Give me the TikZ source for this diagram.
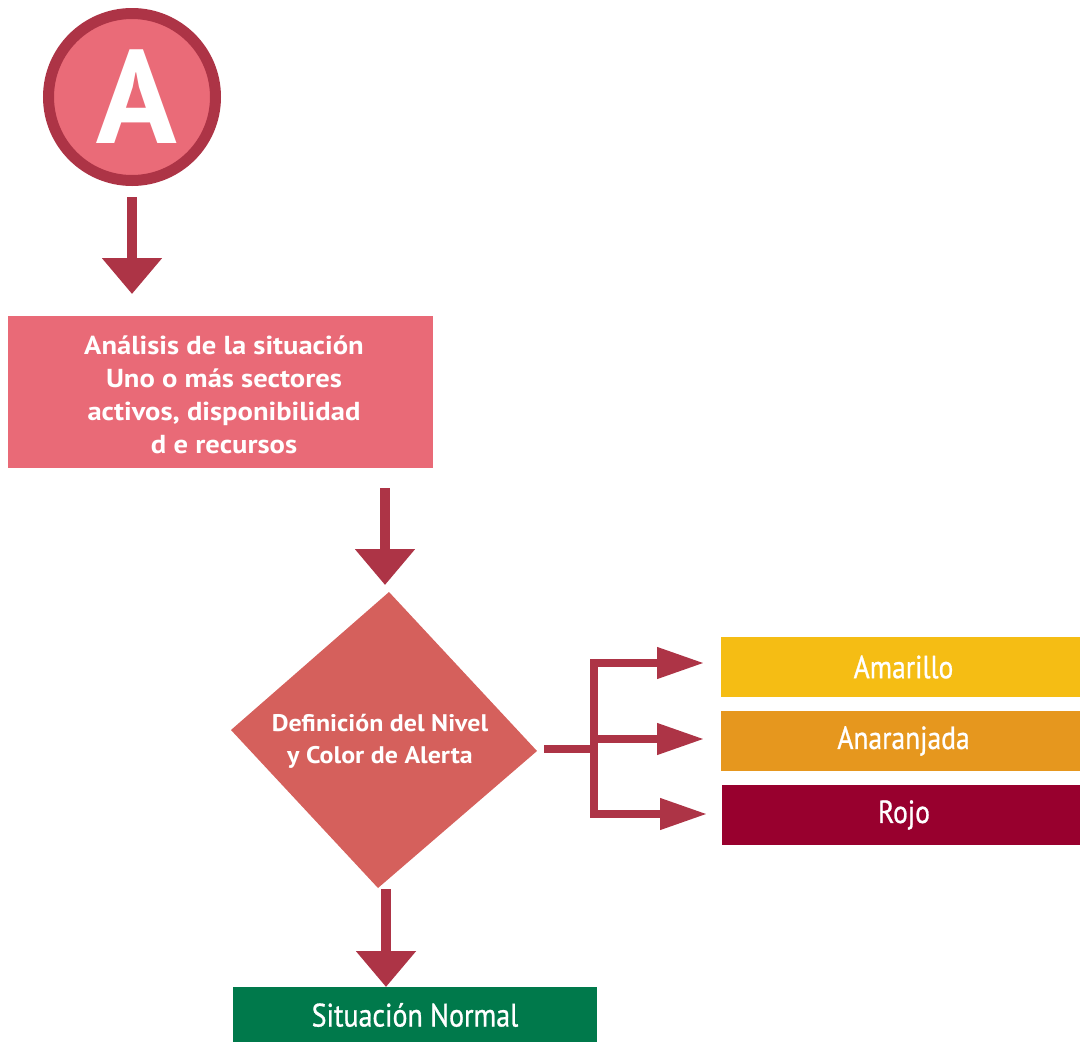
\documentclass[tikz,border=0pt]{standalone}
\usepackage{fontspec}
\setmainfont{PT Sans}
\newfontfamily\narrowf[FakeStretch=0.86,FakeBold=0.8]{PT Sans}
\newfontfamily\widebf[FakeStretch=1.1]{PT Sans Bold}
\newfontfamily\diambf[FakeStretch=1.08]{PT Sans Bold}
\usetikzlibrary{arrows.meta}
\definecolor{arrowc}{HTML}{AD3446}
\definecolor{circf}{HTML}{EA6B78}
\definecolor{pinkbox}{HTML}{E96A77}
\definecolor{diamf}{HTML}{D5605C}
\definecolor{greenb}{HTML}{00794B}
\definecolor{amar}{HTML}{F5BD14}
\definecolor{anar}{HTML}{E6971E}
\definecolor{rojo}{HTML}{98002E}
\tikzset{
  bigarrow/.style={draw=arrowc, line width=10pt, -{Triangle[length=36pt,width=58pt]}},
  brline/.style={draw=arrowc, line width=7.5pt},
  brarrow/.style={draw=arrowc, line width=7.5pt, -{Triangle[length=47pt,width=30pt]}},
  boxn/.style={rectangle, inner sep=0pt, outer sep=0pt, text=white, align=center},
  lvl/.style={boxn, minimum height=60pt, font=\narrowf\fontsize{32}{36}\selectfont},
}
\begin{document}
\begin{tikzpicture}[x=1pt,y=-1pt]
\useasboundingbox (0,0) rectangle (1080,1042);
% start circle
\node[circle, draw=arrowc, line width=11pt, fill=circf, minimum size=167pt, inner sep=0pt, outer sep=0pt,
      text=white, font=\bfseries\fontsize{133}{133}\selectfont] (circ) at (132,97) {\hspace*{9pt}A};
% analysis box
\node[boxn, fill=pinkbox, minimum width=425pt, minimum height=152pt] (box) at (220.5,392) {};
\node[boxn, font=\widebf\fontsize{26}{33}\selectfont] (boxtext) at (224,395)
  {Análisis de la situación\\Uno o más sectores\\activos, disponibilidad\\d e recursos};
% diamond
\coordinate (dT) at (389,592);
\coordinate (dR) at (537,751);
\coordinate (dB) at (378,888);
\coordinate (dL) at (231,730);
\fill[diamf] (dT) -- (dR) -- (dB) -- (dL) -- cycle;
\node[boxn, font=\diambf\fontsize{24}{32}\selectfont] (dtext) at (380,741)
  {Definición del Nivel\\y Color de Alerta};
% normal situation
\node[boxn, fill=greenb, minimum width=364pt, minimum height=55pt] (normal) at (415,1014.5) {};
\node[boxn, font=\narrowf\fontsize{32.5}{36}\selectfont] (normaltext) at (415,1015) {Situación Normal};
% level boxes
\node[lvl, fill=amar, minimum width=359pt] (amarillo) at (900.5,667) {\hspace*{6pt}Amarillo};
\node[lvl, fill=anar, minimum width=359pt] (anaranjada) at (900.5,741) {\hspace*{6pt}Anaranjada};
\node[lvl, fill=rojo, minimum width=358pt] (rojobox) at (901,815) {\hspace*{6pt}Rojo};
% main arrows
\coordinate (a1s) at (132,197);
\draw[bigarrow, shorten >=22pt] (a1s) -- (a1s |- box.north);
\coordinate (a2s) at (385,488);
\coordinate (a2e) at (385,585);
\draw[bigarrow] (a2s) -- (a2e);
\coordinate (a3s) at (386,889);
\draw[bigarrow] (a3s) -- (a3s |- normal.north);
% branch
\coordinate (s0) at (544,749);
\coordinate (j) at (594,749);
\draw[brline] (s0) -- (j);
\draw[brarrow, shorten >=17pt] (j) |- ([yshift=4pt]amarillo.west);
\draw[brarrow, shorten >=17pt] (j) |- ([yshift=2pt]anaranjada.west);
\draw[brarrow, shorten >=15pt] (j) |- ([yshift=1pt]rojobox.west);
\end{tikzpicture}
\end{document}
